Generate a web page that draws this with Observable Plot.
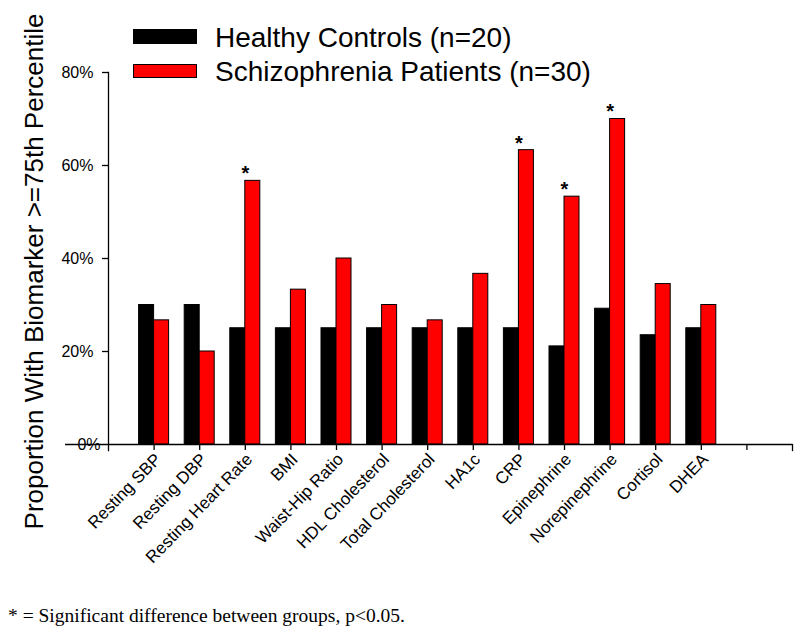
<!DOCTYPE html>
<html>
<head>
<meta charset="utf-8">
<script src="https://cdn.jsdelivr.net/npm/d3@7"></script>
<script src="https://cdn.jsdelivr.net/npm/@observablehq/plot@0.6"></script>
<style>
  html, body { margin: 0; padding: 0; background: #fff; }
  #wrap { position: relative; width: 800px; height: 633px; overflow: hidden; font-family: "Liberation Sans", Arial, sans-serif; }
  .leg-row { position: absolute; left: 133px; height: 30px; line-height: 30px; font-size: 28px; color: #000; white-space: nowrap; }
  .leg-box { position: absolute; left: 0; width: 64px; box-sizing: border-box; }
  .leg-text { position: absolute; left: 82px; top: 0; }
  #foot { position: absolute; left: 8px; top: 605px; font-family: "Liberation Serif", "Times New Roman", serif; font-size: 19.5px; line-height: 22px; color: #000; white-space: nowrap; }
</style>
</head>
<body>
<div id="wrap"></div>
<script>
// ---- data ----
const categories = ["Resting SBP", "Resting DBP", "Resting Heart Rate", "BMI", "Waist-Hip Ratio",
  "HDL Cholesterol", "Total Cholesterol", "HA1c", "CRP", "Epinephrine", "Norepinephrine", "Cortisol", "DHEA"];
const healthyControls = [30, 30, 25, 25, 25, 25, 25, 25, 25, 21.1, 29.2, 23.5, 25];
const schizophreniaPatients = [26.7, 20, 56.7, 33.3, 40, 30, 26.7, 36.7, 63.3, 53.3, 70, 34.5, 30];
const significant = ["Resting Heart Rate", "CRP", "Epinephrine", "Norepinephrine"];
const seriesNames = ["Healthy Controls (n=20)", "Schizophrenia Patients (n=30)"];
const yTicks = [0, 20, 40, 60, 80];
const yTitle = "Proportion With Biomarker >=75th Percentile";
const footnote = "* = Significant difference between groups, p<0.05.";
const xDomain = [...categories, ""]; // trailing empty slot on the axis

const healthyData = categories.map((c, i) => ({category: c, value: healthyControls[i]}));
const patientData = categories.map((c, i) => ({category: c, value: schizophreniaPatients[i]}));
const starData = patientData.filter(d => significant.includes(d.category));

const font = "'Liberation Sans', Arial, sans-serif";

const chart = Plot.plot({
  width: 800,
  height: 595,
  marginTop: 72,
  marginBottom: 151,
  marginLeft: 108,
  marginRight: 8,
  style: {fontFamily: font, background: "#fff", color: "#000", overflow: "visible"},
  x: {domain: xDomain, paddingInner: 0.342, paddingOuter: 0.671, round: false},
  y: {domain: [0, 80]},
  marks: [
    Plot.barY(healthyData, {x: "category", y: "value", fill: "#000", stroke: "#000", strokeWidth: 1, insetRight: 15}),
    Plot.barY(patientData, {x: "category", y: "value", fill: "#ff0000", stroke: "#000", strokeWidth: 1, insetLeft: 15}),
    Plot.ruleY([0], {stroke: "#000", strokeWidth: 1.3, insetLeft: -43}),
    Plot.frame({anchor: "left", stroke: "#000", strokeWidth: 1.3, insetBottom: -6}),
    Plot.frame({anchor: "right", stroke: "#000", strokeWidth: 1.3, insetTop: 372, insetBottom: -6}),
    Plot.axisX({tickSize: 6, tickFormat: null, stroke: "#000", strokeWidth: 1.3, label: null}),
    // rotated category labels
    Plot.text(categories, {x: d => d, frameAnchor: "bottom", rotate: -46, textAnchor: "end", lineAnchor: "middle",
      dx: 4, dy: 12, fontSize: 17, fill: "#000"}),
    Plot.axisY({ticks: yTicks.filter(t => t > 0), tickFormat: d => d + "%", tickSize: 6, tickPadding: 9,
      fontSize: 16, stroke: "#000", strokeWidth: 1.3, fill: "#000", label: null}),
    Plot.axisY({ticks: [0], tickFormat: d => d + "%", tickSize: 0, tickPadding: 8,
      fontSize: 16, fill: "#000", label: null}),
    Plot.text(starData, {x: "category", y: "value", text: () => "*", dy: -7, fontSize: 20, fontWeight: "bold", fill: "#000"}),
    Plot.text([yTitle], {frameAnchor: "left", textAnchor: "middle", rotate: -90, dx: -74, dy: 13, fontSize: 26, fill: "#000"})
  ]
});

const wrap = document.getElementById("wrap");
wrap.appendChild(chart);

// legend (overlaid in the upper plot area, like the original)
const legendColors = ["#000", "#ff0000"];
const legendTops = [23, 57];
seriesNames.forEach((name, i) => {
  const row = document.createElement("div");
  row.className = "leg-row";
  row.style.top = legendTops[i] + "px";
  const box = document.createElement("div");
  box.className = "leg-box";
  box.style.background = legendColors[i];
  box.style.border = "1px solid #000";
  box.style.top = (i === 0 ? 6 : 7) + "px";
  box.style.height = (i === 0 ? 15 : 14) + "px";
  const txt = document.createElement("span");
  txt.className = "leg-text";
  txt.textContent = name;
  row.appendChild(box);
  row.appendChild(txt);
  wrap.appendChild(row);
});

const foot = document.createElement("div");
foot.id = "foot";
foot.textContent = footnote;
wrap.appendChild(foot);
</script>
</body>
</html>
